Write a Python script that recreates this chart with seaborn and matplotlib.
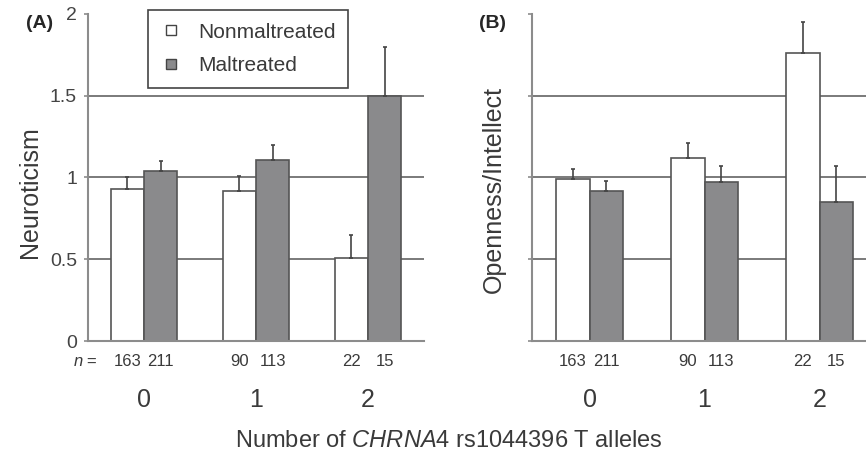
import numpy as np
import pandas as pd
import matplotlib
matplotlib.use("Agg")
import matplotlib.pyplot as plt
from matplotlib.lines import Line2D
import seaborn as sns

# data
alleles = ["0", "1", "2"]
groups = ["Nonmaltreated", "Maltreated"]
neuro_non = [0.93, 0.92, 0.51]
neuro_non_err = [0.07, 0.09, 0.14]
neuro_mal = [1.04, 1.11, 1.50]
neuro_mal_err = [0.06, 0.09, 0.30]
open_non = [0.99, 1.12, 1.76]
open_non_err = [0.06, 0.09, 0.19]
open_mal = [0.92, 0.975, 0.85]
open_mal_err = [0.056, 0.095, 0.22]
n_non = [163, 90, 22]
n_mal = [211, 113, 15]
yticks = [0, 0.5, 1, 1.5, 2]
gridvals = [0.5, 1, 1.5]

sns.set_style("white")
plt.rcParams["font.family"] = ["Liberation Sans", "DejaVu Sans"]
plt.rcParams["mathtext.fontset"] = "custom"
plt.rcParams["mathtext.rm"] = "Liberation Sans"
plt.rcParams["mathtext.it"] = "Liberation Sans:italic"

W, H = 866, 453
fig = plt.figure(figsize=(W / 100, H / 100), dpi=100)
fig.patch.set_facecolor("white")

def px(x0, y0, w, h):
    # pixel box (top-left origin) -> figure fraction
    return [x0 / W, 1 - (y0 + h) / H, w / W, h / H]

ax_a = fig.add_axes(px(88, 14, 336, 327))
ax_b = fig.add_axes(px(532, 14, 345, 327))

colors = ["white", "#8a8a8c"]
grid_c = "#707070"
spine_c = "#8c8c8c"
txt_c = "#3a3a3a"
bw = 0.59


def panel(ax, non, non_err, mal, mal_err, show_yticks):
    df = pd.DataFrame({
        "allele": alleles * 2,
        "group": [groups[0]] * 3 + [groups[1]] * 3,
        "value": non + mal,
    })
    for g in gridvals:
        ax.axhline(g, color=grid_c, lw=1.3, zorder=0)
    sns.barplot(data=df, x="allele", y="value", hue="group", hue_order=groups,
                palette=colors, width=bw, edgecolor="#555555", linewidth=1.2,
                errorbar=None, legend=False, ax=ax, zorder=2)
    xs = np.arange(len(alleles))
    for vals, errs, off in [(non, non_err, -bw / 4), (mal, mal_err, bw / 4)]:
        ax.errorbar(xs + off, vals, yerr=[np.zeros(len(errs)), errs], fmt="none",
                    ecolor="#444444", elinewidth=1.2, capsize=1.5, capthick=1.2, zorder=3)
    # n labels under each bar
    for i in range(len(alleles)):
        ax.text(i - bw / 4, -0.125, str(n_non[i]), ha="center", va="center", fontsize=12,
                color=txt_c, clip_on=False)
        ax.text(i + bw / 4, -0.125, str(n_mal[i]), ha="center", va="center", fontsize=12,
                color=txt_c, clip_on=False)
    ax.set_xlim(-0.5, 2.5)
    ax.set_ylim(0, 2.0)
    ax.set_xlabel("")
    ax.set_ylabel("")
    ax.set_xticks(xs)
    ax.set_xticklabels(alleles, fontsize=18, color=txt_c)
    ax.tick_params(axis="x", which="major", length=0, pad=34)
    ax.set_xticks([0.5, 1.5], minor=True)
    ax.tick_params(axis="x", which="minor", length=3, color=spine_c, width=1.2, direction="out")
    ax.set_yticks(yticks)
    if show_yticks:
        ax.set_yticklabels(["0", "0.5", "1", "1.5", "2"], fontsize=14, color="#444444")
        ax.tick_params(axis="y", length=3, color=spine_c, width=1.2, pad=5, left=True)
    else:
        ax.set_yticklabels([])
        ax.tick_params(axis="y", length=3, color=spine_c, width=1.2, left=True)
    for s in ["top", "right"]:
        ax.spines[s].set_visible(False)
    for s in ["left", "bottom"]:
        ax.spines[s].set_color(spine_c)
        ax.spines[s].set_linewidth(1.5)
    ax.set_facecolor("white")


panel(ax_a, neuro_non, neuro_non_err, neuro_mal, neuro_mal_err, True)
panel(ax_b, open_non, open_non_err, open_mal, open_mal_err, False)

ax_a.text(-0.41, -0.125, "$n$ =", ha="right", va="center", fontsize=12, color=txt_c)

fig.text(40 / W, 1 - 24 / H, "(A)", fontsize=14, fontweight="bold", ha="center", va="center")
fig.text(493 / W, 1 - 24 / H, "(B)", fontsize=14, fontweight="bold", ha="center", va="center")
fig.text(30 / W, 1 - 192 / H, "Neuroticism", rotation=90, fontsize=18, ha="center", va="center",
         color=txt_c)
fig.text(494 / W, 1 - 190 / H, "Openness/Intellect", rotation=90, fontsize=18, ha="center",
         va="center", color=txt_c)
fig.text(449 / W, 1 - 441 / H, r"Number of $\mathit{CHRNA4}$ rs1044396 T alleles", fontsize=17,
         ha="center", va="center", color=txt_c)

handles = [Line2D([], [], marker="s", ls="", markersize=7, markerfacecolor=c,
                  markeredgecolor="#444444", markeredgewidth=1.0) for c in colors]
leg = ax_a.legend(handles, groups, loc="upper left", bbox_to_anchor=(148 / W, 1 - 10 / H),
                  bbox_transform=fig.transFigure, borderaxespad=0, fontsize=15, frameon=True,
                  fancybox=False, framealpha=1, edgecolor="#444444", handlelength=1.0,
                  handletextpad=0.8, labelspacing=0.7, borderpad=0.6)
leg.get_frame().set_linewidth(1.2)
for t in leg.get_texts():
    t.set_color(txt_c)

fig.savefig("out.png", dpi=100)
